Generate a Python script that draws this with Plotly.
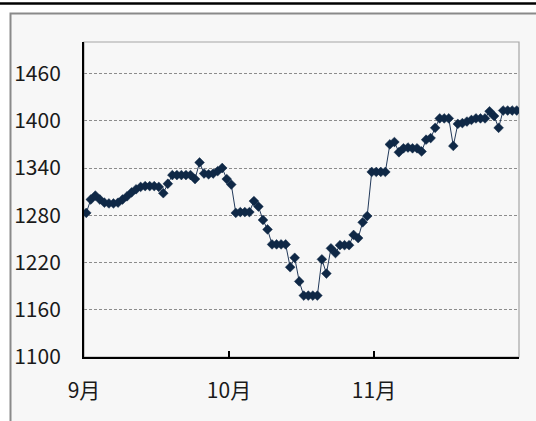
import plotly.graph_objects as go

# ---- data ----
month_labels = ["9月", "10月", "11月"]
points_per_month = 32
values = [
    1283, 1300, 1305, 1300, 1296, 1295, 1295, 1296, 1300, 1304,
    1309, 1313, 1316, 1317, 1317, 1317, 1316, 1308, 1320, 1331,
    1331, 1331, 1331, 1331, 1326, 1347, 1333, 1332, 1333, 1336,
    1340, 1326, 1319, 1283, 1284, 1284, 1284, 1298, 1291, 1274,
    1262, 1243, 1243, 1243, 1243, 1214, 1226, 1196, 1178, 1178,
    1178, 1178, 1224, 1206, 1238, 1232, 1242, 1242, 1242, 1255,
    1251, 1271, 1279, 1335, 1335, 1335, 1335, 1370, 1373, 1360,
    1365, 1366, 1365, 1365, 1361, 1376, 1378, 1391, 1403, 1403,
    1403, 1368, 1396, 1397, 1399, 1401, 1403, 1403, 1403, 1412,
    1406, 1391, 1413, 1413, 1413, 1413,
]
y_min, y_max, y_step = 1100, 1500, 60

# ---- layout geometry ----
W, H = 536, 421
L, R, T, B = 84, 519, 42, 357  # plot area in px


def px_x(x):
    return (x - L) / (R - L)


def px_y(y):
    return (B - y) / (B - T)


x = list(range(len(values)))
n_months = len(month_labels)
tickvals = [i * points_per_month - 0.5 for i in range(n_months + 1)]
ticktext = month_labels + [""]

navy = "#0f2846"
fig = go.Figure()
fig.add_trace(go.Scatter(
    x=x, y=values, mode="lines+markers",
    line=dict(color="#22395a", width=1),
    marker=dict(symbol="diamond", size=7.5, color=navy,
                line=dict(width=0.5, color=navy)),
    showlegend=False, hoverinfo="skip",
))

font_family = "Noto Sans CJK JP"
fig.update_layout(
    width=W, height=H,
    margin=dict(l=L, r=W - R, t=T, b=H - B, pad=0),
    paper_bgcolor="white",
    plot_bgcolor="rgba(0,0,0,0)",
    font=dict(family=font_family, color="#111111"),
    shapes=[
        # chart area background + border
        dict(type="rect", xref="paper", yref="paper", layer="below",
             x0=px_x(10.5), x1=px_x(545), y0=px_y(430), y1=px_y(13.5),
             fillcolor="#f7f7f7", line=dict(color="#8a8a8a", width=2)),
        # top black rule
        dict(type="line", xref="paper", yref="paper",
             x0=px_x(-5), x1=px_x(545), y0=px_y(3.5), y1=px_y(3.5),
             line=dict(color="black", width=2.5)),
        # plot area border
        dict(type="rect", xref="paper", yref="paper", layer="below",
             x0=0, x1=1, y0=0, y1=1,
             line=dict(color="#a6a6a6", width=1.2)),
    ],
)

fig.update_xaxes(
    range=[-0.5, len(values) - 0.5],
    tickmode="array", tickvals=tickvals, ticktext=ticktext,
    ticks="inside", ticklen=6, tickwidth=2, tickcolor="black",
    showline=True, linecolor="black", linewidth=2,
    showgrid=False, zeroline=False,
    tickfont=dict(size=21, family=font_family, color="#1a1a1a"),
    ticklabelstandoff=14,
)
fig.update_yaxes(
    range=[y_min, y_max],
    tickmode="linear", tick0=y_min, dtick=y_step,
    ticks="", showline=True, linecolor="black", linewidth=2,
    showgrid=True, gridcolor="#8c8c8c", gridwidth=1, griddash="3px,2px",
    zeroline=False,
    tickfont=dict(size=21, family=font_family, color="#1a1a1a"),
    ticklabelstandoff=17,
)

fig.write_html(
    "out.html",
    config={"displayModeBar": False},
    post_script="document.body.style.margin='0';document.body.style.overflow='hidden';",
)
